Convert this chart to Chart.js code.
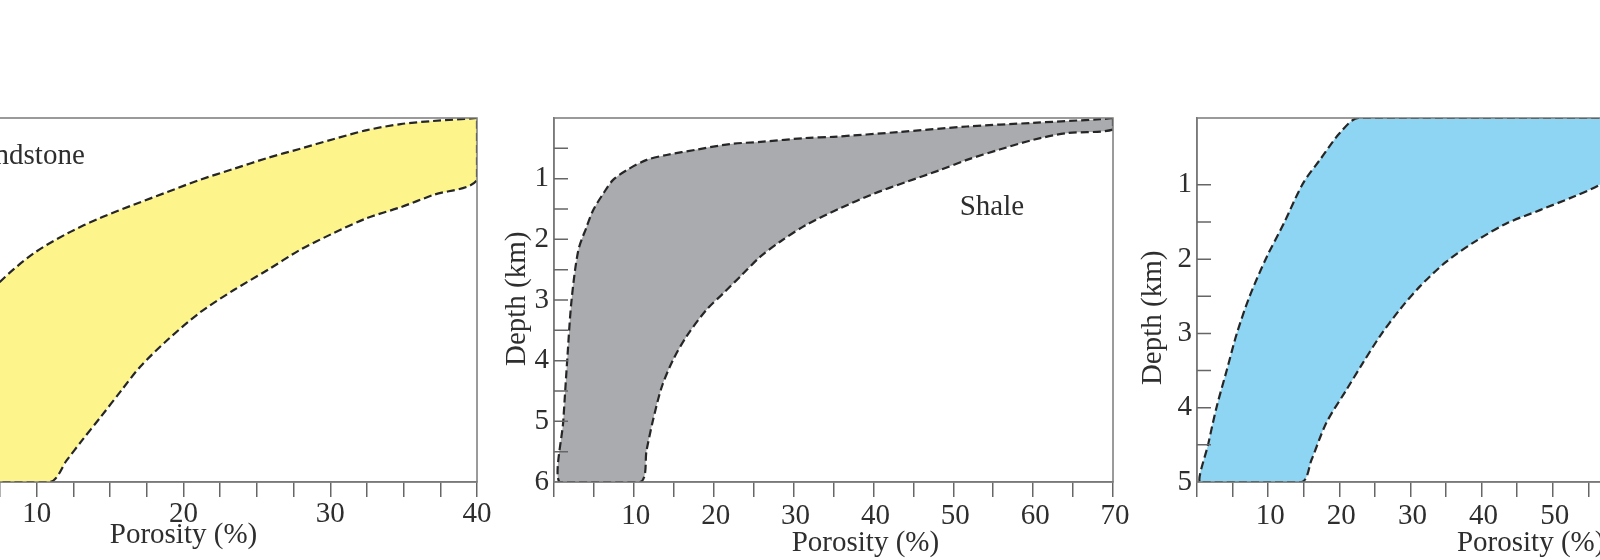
<!DOCTYPE html>
<html>
<head>
<meta charset="utf-8">
<script src="https://cdn.jsdelivr.net/npm/chart.js@4.4.1/dist/chart.umd.min.js"></script>
<style>
    body { margin: 0; background: #fff; width: 1600px; height: 560px; overflow: hidden; position: relative; }
    .panel { position: absolute; top: 0; }
</style>
</head>
<body>
<div class="panel" style="left:-180px"><canvas id="sandChart" width="687" height="560"></canvas></div>
<div class="panel" style="left:484px"><canvas id="shaleChart" width="659" height="560"></canvas></div>
<div class="panel" style="left:1127px"><canvas id="carbChart" width="598" height="560"></canvas></div>
<script>
// Sandstone band: porosity (%) against depth (km), shallow to deep
const sandMinPorosity = [40, 37.0, 34.8, 32.5, 30.2, 27.9, 25.7, 23.4, 21.1, 18.9, 16.6, 14.3, 12.1, 9.8, 7.5, 5.0, 3.0, 2.0, 1.5];
const sandMinDepth = [0, 0.05, 0.10, 0.20, 0.35, 0.51, 0.66, 0.84, 1.02, 1.22, 1.43, 1.65, 1.90, 2.23, 2.70, 3.40, 4.30, 5.20, 6.0];
const sandMaxPorosity = [40, 40, 37.0, 34.8, 32.5, 30.2, 27.9, 25.7, 23.4, 21.1, 18.9, 17.05, 15.8, 14.35, 13.1, 12.05, 10.9];
const sandMaxDepth = [0, 1.02, 1.27, 1.47, 1.65, 1.90, 2.18, 2.51, 2.84, 3.21, 3.66, 4.10, 4.48, 4.93, 5.31, 5.64, 6.0];

// Shale band
const shaleMinPorosity = [70, 68.4, 60, 51.7, 43.3, 35.0, 31.5, 26.2, 22.0, 17.9, 14.1, 11.6, 9.1, 7.4, 6.2, 4.9, 4.1, 3.05, 2.2, 1.67, 1.17, 0.67];
const shaleMinDepth = [0, 0.02, 0.08, 0.14, 0.23, 0.31, 0.33, 0.39, 0.43, 0.52, 0.61, 0.69, 0.86, 1.02, 1.24, 1.52, 1.79, 2.18, 3.0, 3.96, 4.98, 6.0];
const shaleMaxPorosity = [70, 70, 64.2, 60, 55.8, 51.7, 48.3, 44.2, 40.0, 35.8, 31.6, 28.3, 25.8, 23.5, 21.2, 19.1, 16.6, 14.9, 13.5, 12.4, 11.6, 10.8];
const shaleMaxDepth = [0, 0.19, 0.25, 0.36, 0.52, 0.69, 0.86, 1.05, 1.25, 1.49, 1.76, 2.04, 2.29, 2.59, 2.89, 3.16, 3.60, 3.99, 4.43, 4.98, 5.47, 6.0];

// Carbonate band
const carbMinPorosity = [70, 22.7, 20.1, 17.3, 14.9, 12.2, 9.8, 7.4, 5.6, 4.2, 2.76, 1.6, 0.42];
const carbMinDepth = [0.1, 0.1, 0.30, 0.66, 0.98, 1.52, 1.97, 2.50, 3.0, 3.49, 3.99, 4.48, 5.0];
const carbMaxPorosity = [70, 70, 65, 60, 56.6, 52.9, 48.2, 43.5, 39.3, 35.1, 31.3, 28.5, 25.7, 23.3, 21.0, 18.2, 16.1, 14.7];
const carbMaxDepth = [0.1, 0.25, 0.50, 0.78, 1.0, 1.16, 1.34, 1.52, 1.75, 2.03, 2.37, 2.68, 3.04, 3.40, 3.76, 4.20, 4.70, 5.0];

// Tick labels
const sandXLabels = [10, 20, 30, 40];
const shaleXLabels = [10, 20, 30, 40, 50, 60, 70];
const shaleYLabels = [1, 2, 3, 4, 5, 6];
const carbXLabels = [10, 20, 30, 40, 50, 60, 70];
const carbYLabels = [1, 2, 3, 4, 5];

const FONT = "'Liberation Serif', 'Times New Roman', serif";
const TEXT = "#2e2e2e";

/**
 * closed outline: shallow-to-deep along one edge, back up the other
 */
function _band(minP, minD, maxP, maxD) {
    const pts = [];
    for (let i = 0; i < minP.length; i++) pts.push({ x: minP[i], y: minD[i] });
    for (let i = maxP.length - 1; i >= 0; i--) pts.push({ x: maxP[i], y: maxD[i] });
    return pts;
}

/**
 * frame, inward depth ticks and free text
 */
const panelDecor = {
    id: "panelDecor",
    afterDatasetsDraw(chart, args, opts) {
        const { ctx, chartArea: area, scales } = chart;
        ctx.save();
        ctx.strokeStyle = "#7a7a7a";
        ctx.lineWidth = 1.5;
        ctx.strokeRect(area.left, area.top, area.right - area.left, area.bottom - area.top);

        ctx.strokeStyle = "#666";
        ctx.beginPath();
        for (const t of scales.y.ticks) {
            const half = t.value * 2;
            if (Math.abs(half - Math.round(half)) > 1e-6) continue;
            if (t.value <= scales.y.min || t.value >= scales.y.max) continue;
            const y = scales.y.getPixelForValue(t.value);
            ctx.moveTo(area.left, y);
            ctx.lineTo(area.left + 14, y);
        }
        ctx.stroke();

        ctx.fillStyle = TEXT;
        ctx.textBaseline = "middle";
        for (const t of opts.texts || []) {
            ctx.font = `${t.size || 29}px ${FONT}`;
            if (t.below !== undefined) {
                ctx.textAlign = "center";
                ctx.fillText(t.text, scales.x.getPixelForValue(t.x), area.bottom + t.below);
            } else if (t.left !== undefined) {
                ctx.save();
                ctx.translate(area.left - t.left, scales.y.getPixelForValue(t.y));
                ctx.rotate(-Math.PI / 2);
                ctx.textAlign = "center";
                ctx.fillText(t.text, 0, 0);
                ctx.restore();
            } else {
                ctx.textAlign = "left";
                ctx.fillText(t.text, scales.x.getPixelForValue(t.x), scales.y.getPixelForValue(t.y));
            }
        }
        ctx.restore();
    },
};

/**
 *
 */
function _renderPanel(canvasId, p) {
    const data = {
        datasets: [
            {
                data: p.points,
                fill: "shape",
                backgroundColor: p.color,
                borderColor: "#262626",
                borderWidth: 2.2,
                borderDash: [8, 4],
                pointRadius: 0,
                tension: 0.3,
            },
        ],
    };

    const config = {
        type: "line",
        data: data,
        options: {
            responsive: false,
            animation: false,
            layout: {
                autoPadding: false,
                padding: { top: 118, right: 30, left: 0, bottom: 0 },
            },
            plugins: {
                legend: { display: false },
                tooltip: { enabled: false },
                panelDecor: { texts: p.texts },
            },
            scales: {
                x: {
                    type: "linear",
                    min: 0,
                    max: p.xMax,
                    afterFit: (s) => { s.height = 78; },
                    border: { color: "#7a7a7a", width: 1.5 },
                    grid: { drawOnChartArea: false, drawTicks: true, tickLength: 15, color: "#666", lineWidth: 1.5 },
                    ticks: {
                        stepSize: p.xStep,
                        autoSkip: false,
                        maxRotation: 0,
                        padding: p.xPad,
                        labelOffset: p.xLabelOffset,
                        color: TEXT,
                        font: { family: FONT, size: 29 },
                        callback: (v) => (p.xLabels.includes(v) ? String(v) : ""),
                    },
                },
                y: {
                    type: "linear",
                    reverse: true,
                    min: p.yMin,
                    max: p.yMax,
                    afterFit: (s) => { s.width = 70; },
                    border: { color: "#7a7a7a", width: 1.5 },
                    grid: { drawOnChartArea: false, drawTicks: false },
                    ticks: {
                        stepSize: 0.5,
                        autoSkip: false,
                        padding: 5,
                        color: TEXT,
                        font: { family: FONT, size: 29 },
                        callback: (v) => (p.yLabels.includes(v) ? String(v) : ""),
                    },
                },
            },
        },
        plugins: [panelDecor],
    };

    new Chart(document.getElementById(canvasId), config);
}

_renderPanel("sandChart", {
    points: _band(sandMinPorosity, sandMinDepth, sandMaxPorosity, sandMaxDepth),
    color: "#fdf58c",
    xMax: 40, xStep: 2.5, xLabels: sandXLabels, xPad: 0, xLabelOffset: 0,
    yMin: 0, yMax: 6, yLabels: shaleYLabels,
    texts: [
        { text: "Porosity (%)", x: 20, below: 53 },
        { text: "Depth (km)", y: 3, left: 37 },
        { text: "Sandstone", x: 5.15, y: 0.64 },
    ],
});

_renderPanel("shaleChart", {
    points: _band(shaleMinPorosity, shaleMinDepth, shaleMaxPorosity, shaleMaxDepth),
    color: "#a9abae",
    xMax: 70, xStep: 5, xLabels: shaleXLabels, xPad: 2, xLabelOffset: 2,
    yMin: 0, yMax: 6, yLabels: shaleYLabels,
    texts: [
        { text: "Porosity (%)", x: 39, below: 61 },
        { text: "Depth (km)", y: 2.98, left: 37 },
        { text: "Shale", x: 50.8, y: 1.47 },
    ],
});

_renderPanel("carbChart", {
    points: _band(carbMinPorosity, carbMinDepth, carbMaxPorosity, carbMaxDepth),
    color: "#8ed5f3",
    xMax: 70, xStep: 5, xLabels: carbXLabels, xPad: 2, xLabelOffset: 2,
    yMin: 0.1, yMax: 5, yLabels: carbYLabels,
    texts: [
        { text: "Porosity (%)", x: 46.9, below: 61 },
        { text: "Depth (km)", y: 2.79, left: 44 },
    ],
});
</script>
</body>
</html>
